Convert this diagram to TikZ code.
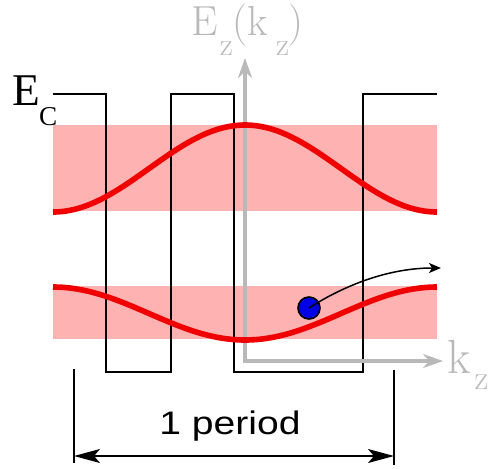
\documentclass[tikz,border=0pt]{standalone}
\usepackage{fontspec}
\newfontfamily\periodfont[FakeStretch=1.2]{Liberation Sans}
\newfontfamily\timesfont{Liberation Serif}
\usetikzlibrary{arrows.meta,positioning}
\definecolor{bandpink}{RGB}{255,178,178}
\definecolor{axisgray}{RGB}{185,185,185}
\definecolor{wavered}{RGB}{240,0,0}
\definecolor{dotblue}{RGB}{0,0,230}

\begin{document}
\begin{tikzpicture}[>={Stealth[length=13pt,width=7pt,inset=3pt]}, x=0.5pt, y=-0.5pt,
    band/.style={fill=bandpink, draw=none},
    barrier/.style={black, line width=0.8pt},
    axis/.style={axisgray, line width=2pt, {Stealth[length=10pt,width=7pt]}-{Stealth[length=10pt,width=7pt]}},
    wave/.style={wavered, line width=2.8pt, samples=120, domain=53:437},
    electron/.style={circle, fill=dotblue, draw=black, line width=0.8pt, minimum size=11pt, inner sep=0pt},
    label/.style={inner sep=0pt, anchor=base west}]
    \useasboundingbox (0,0) rectangle (488,468);

    % 1. Các dải năng lượng
    \fill[band] (53,125) rectangle (437,211);
    \fill[band] (53,286) rectangle (437,339);

    % 2. Đáy vùng dẫn E_C
    \draw[barrier] (53,94) -- (106,94) -- (106,372) -- (171,372) -- (171,94)
        -- (234,94) -- (234,372) -- (363,372) -- (363,94) -- (437,94);
    \node[label] (EC) at (12,105) {\timesfont\fontsize{22.7}{24}\selectfont
        E\kern-0.5pt\raisebox{-10pt}{\fontsize{13.6}{14}\selectfont C}};

    % 3. Hệ trục E_z(k_z)
    \coordinate (O) at (245,361);
    \coordinate (ytip) at (245,58);
    \coordinate (xtip) at (443,361);
    \draw[axis] (ytip) -- (O) -- (xtip);
    \node[label, text=axisgray] (Ez) at (191,35) {\fontsize{21}{22}\selectfont
        E\kern1pt\raisebox{-10pt}{\fontsize{16}{16}\selectfont z}(k\kern4pt\raisebox{-10pt}{\fontsize{16}{16}\selectfont z})};
    \node[label, text=axisgray] (kz) at (447,373) {\fontsize{24}{24}\selectfont
        k\kern2pt\raisebox{-8pt}{\fontsize{17}{17}\selectfont z}};

    % 4. Hàm E(k) của hai dải
    \draw[wave] plot (\x, {168.5 + 43.5*cos((\x-53)/384*360)});
    \draw[wave] plot (\x, {313.5 - 26.5*cos((\x-53)/384*360)});

    % 5. Electron
    \node[electron] (e) at (309,308) {};
    \coordinate (etip) at (441,268);
    \draw[-{Stealth[length=6pt,width=5pt,inset=1.5pt]}, line width=0.75pt]
        (e.center) .. controls (340,288) and (385,268) .. (etip);

    % 6. Một chu kỳ
    \coordinate (ptl) at (74,369);
    \coordinate (pbl) at (74,463);
    \coordinate (ptr) at (394,370);
    \coordinate (pbr) at (394,465);
    \coordinate (pl) at (74,456);
    \coordinate (pr) at (394,456);
    \draw[line width=0.75pt] (ptl) -- (pbl);
    \draw[line width=0.75pt] (ptr) -- (pbr);
    \draw[<->, line width=0.75pt] (pl) -- (pr);
    \node[inner sep=0pt, anchor=base] (per) at (230,434) {\periodfont\fontsize{16.3}{18}\selectfont 1 period};
\end{tikzpicture}
\end{document}
